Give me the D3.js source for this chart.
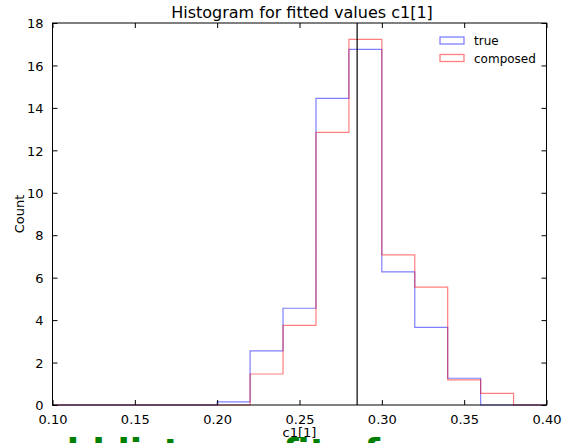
<!DOCTYPE html>
<html><head><meta charset="utf-8">
<script src="https://cdn.jsdelivr.net/npm/d3@7"></script>
<style>html,body{margin:0;padding:0;background:#fff;overflow:hidden}</style>
</head><body>
<script>
// Data
const binEdges = [0.10,0.12,0.14,0.16,0.18,0.20,0.22,0.24,0.26,0.28,0.30,0.32,0.34,0.36,0.38,0.40];
const trueCounts =     [0,0,0,0,0, 0.15, 2.55, 4.56, 14.45, 16.76, 6.27, 3.66, 1.26, 0, 0];
const composedCounts = [0,0,0,0,0, 0.0,  1.46, 3.75, 12.85, 17.23, 7.07, 5.55, 1.18, 0.55, 0];
const seriesNames = ["true","composed"];
const xTicks = [0.10,0.15,0.20,0.25,0.30,0.35,0.40];
const yTicks = [0,2,4,6,8,10,12,14,16,18];
const markerValue = 0.2850;
const captionParts = ["old list","fit of"];

const W=567,H=443;
const m={l:52.5,r:546.5,t:23,b:405};
const svg=d3.select("body").append("svg").attr("width",W).attr("height",H)
  .style("font-family","'DejaVu Sans', sans-serif");
const x=d3.scaleLinear().domain([0.10,0.40]).range([m.l,m.r]);
const y=d3.scaleLinear().domain([0,18]).range([m.b,m.t]);

function stepPath(vals){
  const p=d3.path();
  p.moveTo(x(binEdges[0]),y(0));
  vals.forEach((v,i)=>{p.lineTo(x(binEdges[i]),y(v));p.lineTo(x(binEdges[i+1]),y(v));});
  p.lineTo(x(binEdges[binEdges.length-1]),y(0));
  return p.toString();
}
const colors={"true":"rgba(0,0,255,0.5)","composed":"rgba(255,0,0,0.5)"};
svg.append("path").attr("d",stepPath(trueCounts)).attr("fill","none").attr("stroke",colors["true"]).attr("stroke-width",1.2);
svg.append("path").attr("d",stepPath(composedCounts)).attr("fill","none").attr("stroke",colors["composed"]).attr("stroke-width",1.2);

// vertical line
svg.append("line").attr("x1",x(markerValue)).attr("x2",x(markerValue)).attr("y1",m.t).attr("y2",m.b)
  .attr("stroke","#000").attr("stroke-width",1.2);

// axes (ticks inside)
const fmt=d3.format(".2f");
const gB=svg.append("g").attr("transform",`translate(0,${m.b})`)
  .call(d3.axisBottom(x).tickValues(xTicks).tickFormat(fmt).tickSizeInner(-5).tickSizeOuter(0).tickPadding(10));
const gT=svg.append("g").attr("transform",`translate(0,${m.t})`)
  .call(d3.axisTop(x).tickValues(xTicks).tickFormat("").tickSizeInner(-5).tickSizeOuter(0));
const gL=svg.append("g").attr("transform",`translate(${m.l},0)`)
  .call(d3.axisLeft(y).tickValues(yTicks).tickFormat(d3.format("d")).tickSizeInner(-5).tickSizeOuter(0).tickPadding(9));
const gR=svg.append("g").attr("transform",`translate(${m.r},0)`)
  .call(d3.axisRight(y).tickValues(yTicks).tickFormat("").tickSizeInner(-5).tickSizeOuter(0));
[gB,gT,gL,gR].forEach(g=>{
  g.select(".domain").remove();
  g.selectAll("line").attr("stroke","#000").attr("stroke-width",1);
  g.selectAll("text").attr("font-size","13px").attr("font-family","'DejaVu Sans', sans-serif").attr("fill","#000");
});
gL.selectAll("text").attr("dy","0.36em");
svg.append("rect").attr("x",m.l).attr("y",m.t).attr("width",m.r-m.l).attr("height",m.b-m.t)
  .attr("fill","none").attr("stroke","#000").attr("stroke-width",1);

// labels
svg.append("text").attr("x",302).attr("y",18).attr("text-anchor","middle")
  .attr("font-size","16px").text("Histogram for fitted values c1[1]");
svg.append("text").attr("x",(m.l+m.r)/2).attr("y",437).attr("text-anchor","middle")
  .attr("font-size","13px").text("c1[1]");
svg.append("text").attr("transform",`translate(24,${(m.t+m.b)/2}) rotate(-90)`).attr("text-anchor","middle")
  .attr("font-size","13px").text("Count");

// legend
seriesNames.forEach((n,i)=>{
  const yy=37+i*17.5;
  svg.append("rect").attr("x",440).attr("y",yy).attr("width",24).attr("height",7)
    .attr("fill","none").attr("stroke",colors[n]).attr("stroke-width",1.3);
  svg.append("text").attr("x",474).attr("y",yy+8).attr("font-size","12px").text(n);
});

// overlapping green caption (mostly cut off at the bottom edge)
svg.append("text").attr("x",42).attr("y",464).attr("font-size","36px").attr("font-weight","bold")
  .attr("fill","#008000").text(captionParts[0]);
svg.append("text").attr("x",283).attr("y",464).attr("font-size","36px").attr("font-weight","bold")
  .attr("fill","#008000").text(captionParts[1]);
</script>
</body></html>
